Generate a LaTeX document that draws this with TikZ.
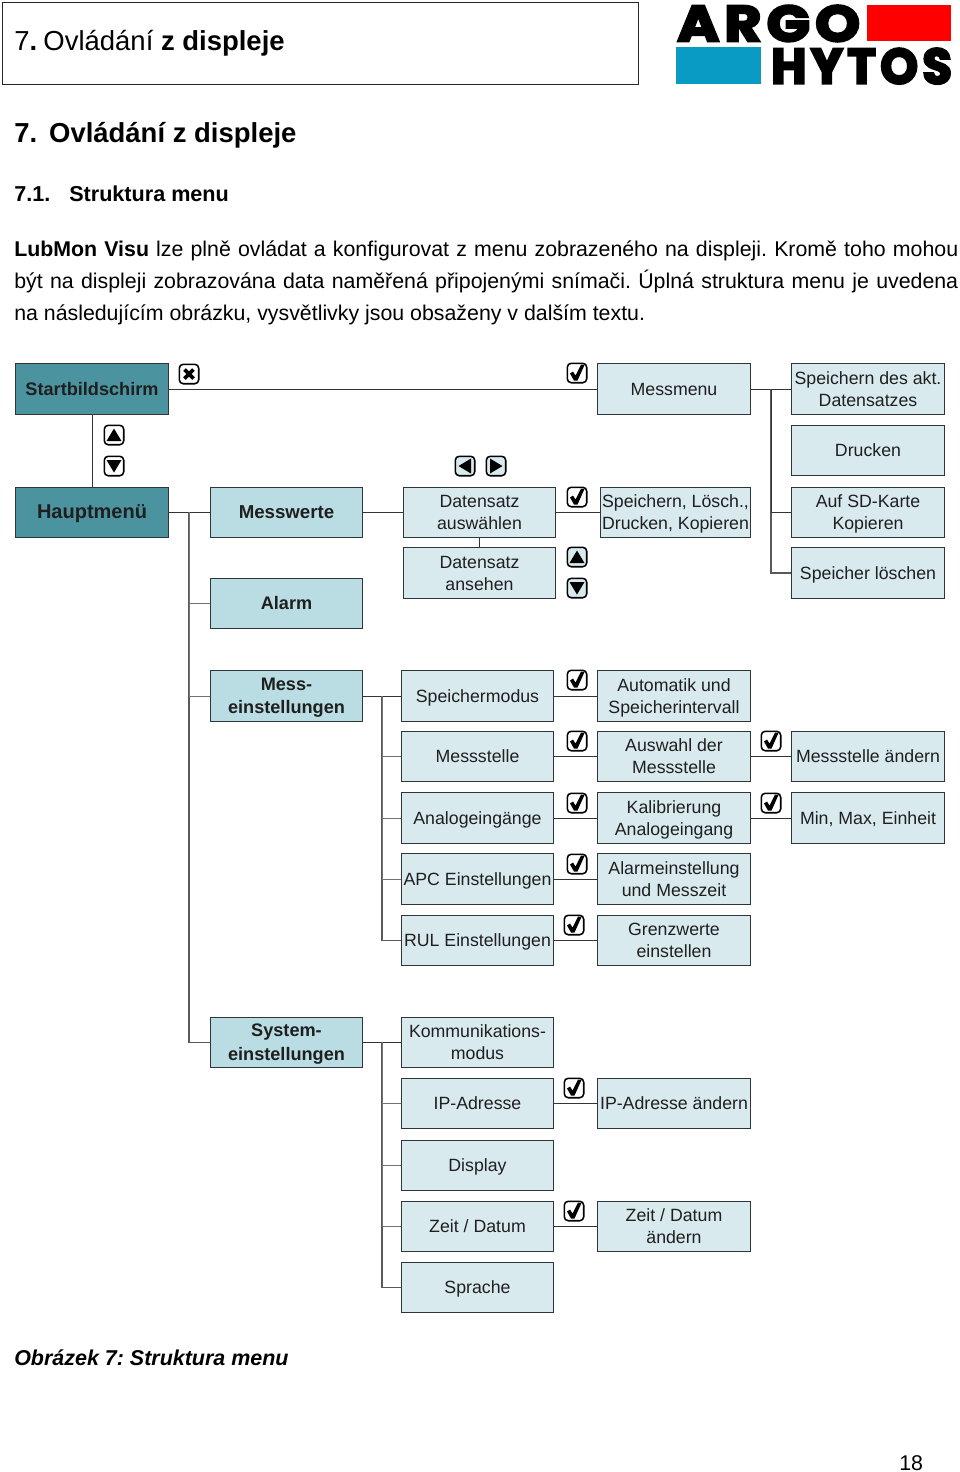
\documentclass[tikz,border=0pt]{standalone}
\usepackage{fontspec}
\usepackage{graphicx}
\setmainfont{Liberation Sans}
\newfontfamily\logofont[LetterSpace=9,BoldFeatures={FakeBold=4.5}]{Poppins}
\definecolor{linecol}{HTML}{2E3638}
\definecolor{tealdark}{HTML}{4A939F}
\definecolor{tealmid}{HTML}{B9DDE2}
\definecolor{teallight}{HTML}{D9EAEF}
\definecolor{logored}{HTML}{FE0000}
\definecolor{logoblue}{HTML}{0A9BC4}
\tikzset{
  menubox/.style={draw=linecol,line width=0.7pt,inner sep=0pt,align=center,text=black!88,
    font=\fontsize{13.3}{16.5}\selectfont},
  plainbox/.style={menubox,fill=teallight},
  midbox/.style={menubox,fill=tealmid,font=\fontsize{13.6}{17.5}\selectfont\bfseries},
  darkbox/.style={menubox,fill=tealdark,font=\fontsize{13.6}{17.5}\selectfont\bfseries},
  wire/.style={draw=linecol,line width=0.75pt},
  softwire/.style={draw=black!55,line width=0.75pt},
  bus/.style={draw=black!65,line width=1.1pt},
  keybox/.style={draw=black,line width=1.15pt,rounded corners=3pt,fill=#1,minimum size=14.6pt,inner sep=0pt},
  keybox/.default=white,
  textline/.style={anchor=base west,inner sep=0pt,font=\fontsize{16}{24}\selectfont},
}
% box from its corner coordinates: style, name, x1, y1, x2, y2, text
\newcommand\menuitem[7]{%
  \pgfmathsetmacro\bw{(#5-#3-1)*0.75}\pgfmathsetmacro\bh{(#6-#4-1)*0.75}%
  \node[#1,minimum width=\bw pt,minimum height=\bh pt] (#2) at ({(#3+#5)/2},{(#4+#6)/2})
    {\rule{0pt}{12pt}#7\rule[-2.8pt]{0pt}{2.8pt}};}
% key symbols
\newcommand\glyphok{\fill[black] (-7,0.5)--(-4,-1.5)--(-1.5,2.5)--(4,-8.5)--(7.5,-8)--(0.5,7.5)--(-3,7.5)--cycle;}
\newcommand\glyphup{\fill[black] (-7.5,6)--(7.5,6)--(0,-6.5)--cycle;}
\newcommand\glyphdown{\fill[black] (-7.5,-6)--(7.5,-6)--(0,6.5)--cycle;}
\newcommand\glyphleft{\fill[black] (6,-7.5)--(6,7.5)--(-6.5,0)--cycle;}
\newcommand\glyphright{\fill[black] (-6,-7.5)--(-6,7.5)--(6.5,0)--cycle;}
\newcommand\glyphcancel{\draw[black,line width=2.8pt] (-4.5,-4.5)--(4.5,4.5) (-4.5,4.5)--(4.5,-4.5);}
\newcommand\keyicon[5][white]{%
  \node[keybox=#1] (#2) at (#3,#4) {};
  \begin{scope}[shift={(#2.center)}]#5\end{scope}}
\begin{document}
\frenchspacing
\begin{tikzpicture}[x=0.75pt,y=-0.75pt]
\useasboundingbox (0,0) rectangle (960,1472);
\fill[white] (0,0) rectangle (960,1472);

% page head
\node[draw=black!85,line width=1pt,minimum width=477pt,minimum height=61.5pt,inner sep=0pt] (headbox) at (320.5,43.5) {};
\node[textline,font=\fontsize{20.6}{24}\selectfont] (headtext) at (14,50) {7\textbf{.}\hspace{-1pt} Ovládání \textbf{z displeje}};

% company mark
\node[inner sep=0pt,anchor=north west] (argo) at (677,5) {\resizebox{137pt}{27pt}{\logofont\bfseries ARGO}};
\node[inner sep=0pt,anchor=north west] (hytos) at (771,48) {\resizebox{135.5pt}{26.5pt}{\logofont\bfseries HYTOS}};
\node[fill=logored,inner sep=0pt,minimum width=63pt,minimum height=27pt] (logored) at (909,23) {};
\node[fill=logoblue,inner sep=0pt,minimum width=64pt,minimum height=27.7pt] (logoblue) at (718.5,65.5) {};

% headings and paragraph
\node[textline,font=\fontsize{20.6}{24}\selectfont\bfseries] (chapter) at (14,142) {7.\hspace{9pt}Ovládání z displeje};
\node[textline,font=\fontsize{16.2}{24}\selectfont\bfseries] (section) at (14,201) {7.1.};
\node[textline,font=\fontsize{16.2}{24}\selectfont\bfseries] (sectiontitle) at (69,201) {Struktura menu};
\node[anchor=north west,inner sep=0pt,text width=708pt,align=justify,font=\fontsize{16}{24}\selectfont] (para) at (14,241)
  {\textbf{LubMon Visu} lze plně ovládat a konfigurovat z menu zobrazeného na displeji. Kromě toho mohou\linebreak
   být na displeji zobrazována data naměřená připojenými snímači. Úplná struktura menu je uvedena\linebreak
   na následujícím obrázku, vysvětlivky jsou obsaženy v dalším textu.};

% first column
\menuitem{darkbox}{start}{15}{363}{169}{415}{Startbildschirm}
\menuitem{darkbox}{haupt}{15}{487}{169}{538}{\fontsize{15}{17.5}\selectfont Hauptmenü}
\menuitem{midbox}{messwerte}{210}{487}{363}{538}{\fontsize{14}{17.5}\selectfont Messwerte}
\menuitem{midbox}{alarm}{210}{578}{363}{629}{Alarm}
\menuitem{midbox}{messein}{210}{670}{363}{722}{Mess-\\einstellungen}
\menuitem{midbox}{sysein}{210}{1017}{363}{1068}{System-\\einstellungen}

% measuring menu
\menuitem{plainbox}{messmenu}{597}{363}{751}{415}{Messmenu}
\menuitem{plainbox}{speicherakt}{791}{363}{945}{415}{Speichern des akt.\\Datensatzes}
\menuitem{plainbox}{drucken}{791}{425}{945}{476}{Drucken}
\menuitem{plainbox}{sdkarte}{791}{487}{945}{538}{Auf SD-Karte\\Kopieren}
\menuitem{plainbox}{loeschen}{791}{547}{945}{599}{Speicher löschen}

% data sets
\menuitem{plainbox}{dsauswahl}{403}{487}{556}{538}{Datensatz\\auswählen}
\menuitem{plainbox}{dsansehen}{403}{547}{556}{599}{Datensatz\\ansehen}
\menuitem{plainbox}{dsaktion}{600}{487}{751}{538}{Speichern, Lösch.,\\Drucken, Kopieren}

% measurement settings
\menuitem{plainbox}{modus}{401}{670}{554}{722}{Speichermodus}
\menuitem{plainbox}{stelle}{401}{731}{554}{782}{Messstelle}
\menuitem{plainbox}{analog}{401}{792}{554}{844}{Analogeingänge}
\menuitem{plainbox}{apc}{401}{853}{554}{905}{APC Einstellungen}
\menuitem{plainbox}{rul}{401}{915}{554}{966}{RUL Einstellungen}
\menuitem{plainbox}{intervall}{597}{670}{751}{722}{Automatik und\\Speicherintervall}
\menuitem{plainbox}{auswahl}{597}{731}{751}{782}{Auswahl der\\Messstelle}
\menuitem{plainbox}{kalib}{597}{792}{751}{844}{Kalibrierung\\Analogeingang}
\menuitem{plainbox}{alarmein}{597}{853}{751}{905}{Alarmeinstellung\\und Messzeit}
\menuitem{plainbox}{grenz}{597}{915}{751}{966}{Grenzwerte\\einstellen}
\menuitem{plainbox}{stelleaend}{791}{731}{945}{782}{Messstelle ändern}
\menuitem{plainbox}{minmax}{791}{792}{945}{844}{Min, Max, Einheit}

% system settings
\menuitem{plainbox}{komm}{401}{1017}{554}{1068}{Kommunikations-\\modus}
\menuitem{plainbox}{ip}{401}{1078}{554}{1129}{IP-Adresse}
\menuitem{plainbox}{display}{401}{1140}{554}{1191}{Display}
\menuitem{plainbox}{zeit}{401}{1201}{554}{1252}{Zeit / Datum}
\menuitem{plainbox}{sprache}{401}{1262}{554}{1313}{Sprache}
\menuitem{plainbox}{ipaend}{597}{1078}{751}{1129}{IP-Adresse ändern}
\menuitem{plainbox}{zeitaend}{597}{1201}{751}{1252}{Zeit / Datum\\ändern}

% branching points
\coordinate (hauptbus) at (189,512);
\coordinate (menubus) at (771,389);
\coordinate (messbus) at (382,696);
\coordinate (sysbus) at (382,1042);

% connectors
\draw[wire] (start) -- (haupt);
\draw[wire] (start) -- (messmenu);
\draw[wire] (haupt) -- (messwerte);
\draw[wire] (messwerte) -- (dsauswahl);
\draw[wire] (dsauswahl) -- (dsaktion);
\draw[wire] (dsauswahl) -- (dsansehen);
\draw[wire] (messmenu) -- (speicherakt);
\draw[bus] (hauptbus) |- (sysein.west);
\draw[softwire] (hauptbus) |- (alarm.west);
\draw[softwire] (hauptbus) |- (messein.west);
\draw[bus] (menubus) |- (loeschen.west);
\draw[wire] (menubus) |- (sdkarte.west);
\draw[wire] (messein.east) -- (modus.west);
\draw[bus] (messbus) |- (rul.west);
\draw[softwire] (messbus) |- (stelle.west);
\draw[softwire] (messbus) |- (analog.west);
\draw[softwire] (messbus) |- (apc.west);
\draw[wire] (modus) -- (intervall);
\draw[wire] (stelle) -- (auswahl);
\draw[wire] (analog) -- (kalib);
\draw[wire] (apc) -- (alarmein);
\draw[wire] (rul) -- (grenz);
\draw[wire] (auswahl) -- (stelleaend);
\draw[wire] (kalib) -- (minmax);
\draw[wire] (sysein.east) -- (komm.west);
\draw[bus] (sysbus) |- (sprache.west);
\draw[softwire] (sysbus) |- (ip.west);
\draw[softwire] (sysbus) |- (display.west);
\draw[softwire] (sysbus) |- (zeit.west);
\draw[wire] (ip) -- (ipaend);
\draw[wire] (zeit) -- (zeitaend);

% key symbols
\keyicon{kcancel}{189}{374}{\glyphcancel}
\keyicon{kup}{114}{435}{\glyphup}
\keyicon{kdown}{114}{466}{\glyphdown}
\keyicon{kmenu}{577}{373}{\glyphok}
\keyicon[teallight]{kleft}{465}{466}{\glyphleft}
\keyicon[teallight]{kright}{496}{466}{\glyphright}
\keyicon{kds}{577}{497}{\glyphok}
\keyicon[teallight]{kdsup}{577}{557}{\glyphup}
\keyicon[teallight]{kdsdown}{577}{588}{\glyphdown}
\keyicon{kmodus}{577}{680}{\glyphok}
\keyicon{kstelle}{577}{741}{\glyphok}
\keyicon{kanalog}{577}{803}{\glyphok}
\keyicon{kapc}{577}{864}{\glyphok}
\keyicon{krul}{574}{925}{\glyphok}
\keyicon{kauswahl}{771}{741}{\glyphok}
\keyicon{kkalib}{771}{803}{\glyphok}
\keyicon{kip}{574}{1088}{\glyphok}
\keyicon{kzeit}{574}{1211}{\glyphok}

% caption and page number
\node[textline,font=\fontsize{16.1}{24}\selectfont\bfseries\itshape] (caption) at (14,1365) {Obrázek 7: Struktura menu};
\node[textline] (pageno) at (899,1470) {18};
\end{tikzpicture}
\end{document}
